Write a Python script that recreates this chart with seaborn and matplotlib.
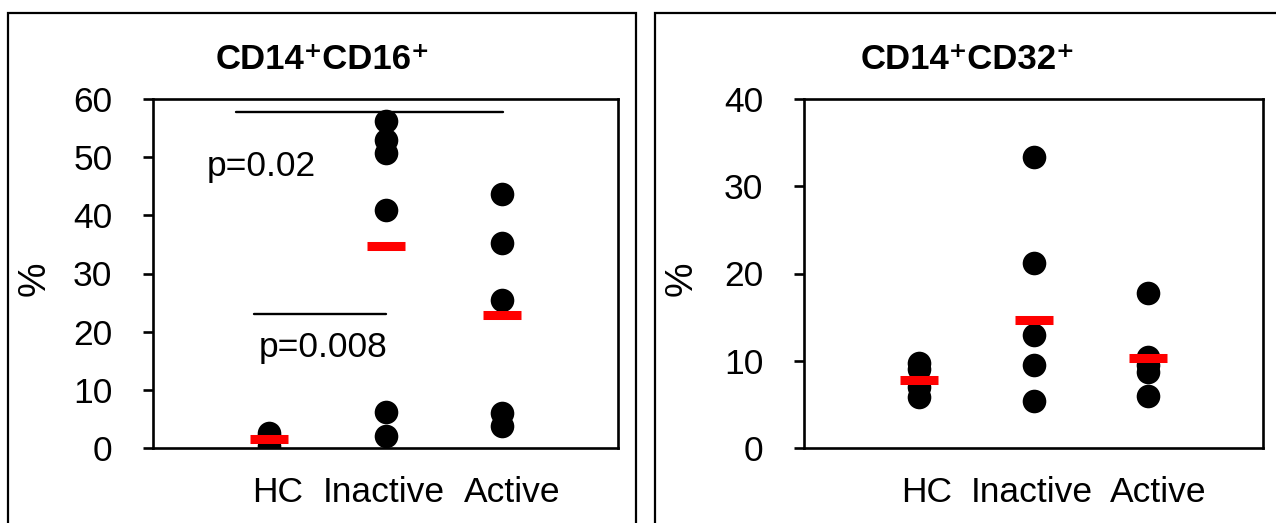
import matplotlib
matplotlib.use("Agg")
import matplotlib.pyplot as plt
from matplotlib.patches import Rectangle
from matplotlib.transforms import ScaledTranslation
import seaborn as sns
import pandas as pd

# ---------------- data ----------------
categories = ["HC", "Inactive", "Active"]

cd16_hc = [2.5, 2.0, 0.4]
cd16_inactive = [56.2, 53.0, 50.7, 40.9, 6.2, 2.0]
cd16_active = [43.6, 35.2, 25.5, 6.0, 3.7]
cd16_mean = [1.6, 34.8, 22.8]

cd32_hc = [9.7, 9.0, 7.0, 5.9]
cd32_inactive = [33.3, 21.2, 13.0, 9.5, 5.4]
cd32_active = [17.8, 10.4, 9.5, 8.7, 6.0]
cd32_mean = [7.8, 14.7, 10.3]

cd16_ticks = [0, 10, 20, 30, 40, 50, 60]
cd32_ticks = [0, 10, 20, 30, 40]

# significance annotations: (start category, end category, y, label, label x, label y)
cd16_sig = [(-0.29, 2.01, 57.7, "p=0.02", -0.07, 46.8),
            (-0.135, 1.0, 23.1, "p=0.008", 0.46, 15.6)]

titles = ["CD14\u207aCD16\u207a", "CD14\u207aCD32\u207a"]
ylabel = "%"

# ---------------- style ----------------
sns.set_style("white")
plt.rcParams["font.family"] = ["Liberation Sans", "DejaVu Sans"]
plt.rcParams["text.color"] = "black"
plt.rcParams["axes.labelcolor"] = "black"

W, H = 1276, 523
FS = 25.5
label_shift_px = [8, -2, 10]
fig = plt.figure(figsize=(W / 100, H / 100), dpi=100)
fig.patch.set_facecolor("white")


def long_df(groups):
    rows = []
    for cat, vals in zip(categories, groups):
        for v in vals:
            rows.append({"group": cat, "value": v})
    return pd.DataFrame(rows)


def panel(rect_px, data, means, ticks, sig=None):
    l, r, t, b = rect_px
    ax = fig.add_axes([l / W, 1 - b / H, (r - l) / W, (b - t) / H])
    df = long_df(data)
    sns.stripplot(data=df, x="group", y="value", order=categories, jitter=False,
                  color="black", size=17, linewidth=0, ax=ax, zorder=3)
    sns.pointplot(x=categories, y=means, order=categories, color="red",
                  markers="_", linestyle="none", errorbar=None,
                  markersize=27, markeredgewidth=6.5, ax=ax, zorder=4)
    ax.set_xlim(-1, 3)
    ax.set_ylim(ticks[0], ticks[-1])
    ax.set_yticks(ticks)
    ax.set_xlabel("")
    ax.set_ylabel("")
    for s in ax.spines.values():
        s.set_visible(True)
        s.set_color("black")
        s.set_linewidth(1.9)
    ax.tick_params(axis="y", direction="out", length=7.2, width=1.9,
                   labelsize=FS, pad=22, left=True, colors="black")
    ax.tick_params(axis="x", length=0, labelsize=FS, pad=20, colors="black")
    for lab, dx in zip(ax.get_xticklabels(), label_shift_px):
        lab.set_transform(lab.get_transform() +
                          ScaledTranslation(dx / 100, 0, fig.dpi_scale_trans))
    if sig:
        for x0, x1, y, lab, lx, ly in sig:
            ax.plot([x0, x1], [y, y], color="black", lw=1.7, zorder=2)
            ax.text(lx, ly, lab, ha="center", va="baseline", fontsize=FS,
                    color="black")
    return ax


ax1 = panel((153, 618, 99, 448), [cd16_hc, cd16_inactive, cd16_active],
            cd16_mean, cd16_ticks, cd16_sig)
ax2 = panel((804, 1263, 99, 448), [cd32_hc, cd32_inactive, cd32_active],
            cd32_mean, cd32_ticks)

# panel frames
fig.patches.append(Rectangle((8 / W, -0.05), (636 - 8) / W, 1 - 13 / H + 0.05,
                             transform=fig.transFigure, fill=False,
                             edgecolor="black", lw=1.6))
fig.patches.append(Rectangle((655 / W, -0.05), (1300 - 655) / W, 1 - 13 / H + 0.05,
                             transform=fig.transFigure, fill=False,
                             edgecolor="black", lw=1.6))

# titles
fig.text(322.5 / W, 1 - 69 / H, titles[0], ha="center", va="baseline",
         fontsize=25, fontweight="bold", color="black")
fig.text(968 / W, 1 - 69 / H, titles[1], ha="center", va="baseline",
         fontsize=25, fontweight="bold", color="black")

# y labels
fig.text(35 / W, 1 - 279 / H, ylabel, rotation=90, ha="center", va="center",
         fontsize=28, color="black")
fig.text(682 / W, 1 - 279 / H, ylabel, rotation=90, ha="center", va="center",
         fontsize=28, color="black")

fig.savefig("out.png", dpi=100, facecolor="white")
